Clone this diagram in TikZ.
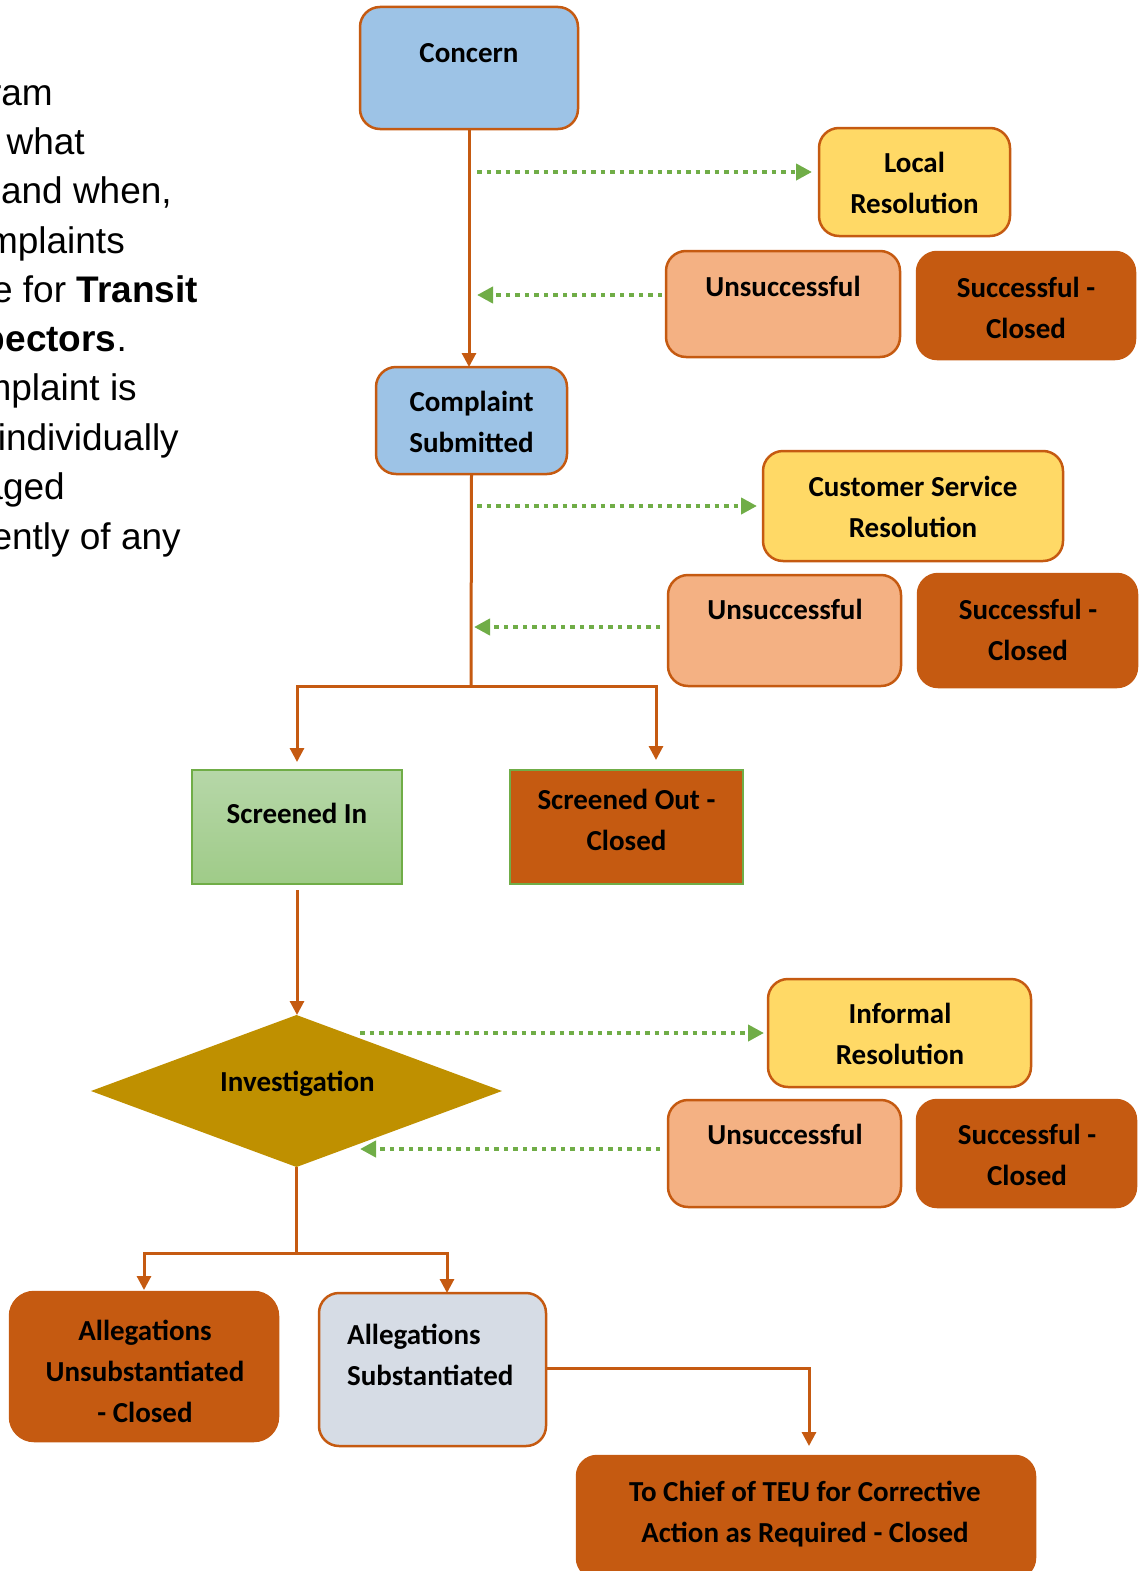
\documentclass[tikz,border=0pt]{standalone}
\usepackage{fontspec}
\setmainfont{Carlito}
\newfontfamily\sidefont{Liberation Sans}
\usetikzlibrary{arrows.meta,positioning,calc,shapes.geometric}

\definecolor{rust}{HTML}{C55A11}
\definecolor{skyfill}{HTML}{9DC3E6}
\definecolor{sunfill}{HTML}{FFD966}
\definecolor{peachfill}{HTML}{F4B183}
\definecolor{slatefill}{HTML}{D6DCE5}
\definecolor{gold}{HTML}{BF9000}
\definecolor{leaf}{HTML}{70AD47}
\definecolor{minttop}{HTML}{B6D7A8}
\definecolor{mintbot}{HTML}{9FCB88}

\tikzset{
  box/.style={rectangle, rounded corners=20pt, draw=rust, line width=2.5pt, inner sep=0pt, outer sep=0pt},
  flatbox/.style={rectangle, draw=leaf, line width=1.2pt, inner sep=0pt, outer sep=0pt},
  lbl/.style={font=\fontsize{29}{41}\selectfont\bfseries, align=center, inner sep=0pt},
  sidetxt/.style={font=\sidefont\fontsize{37}{49}\selectfont, anchor=base east, inner sep=0pt},
  trunk/.style={draw=rust, line width=3pt},
  flow/.style={trunk, -{Triangle[length=14pt,width=14pt]}},
  dotflow/.style={draw=leaf, line width=4.5pt, dash pattern=on 4.5pt off 5pt, -{Triangle[length=16pt,width=16pt]}},
}

\begin{document}
\begin{tikzpicture}[x=1pt, y=-1pt]
  \useasboundingbox (0,0) rectangle (1142,1571);

  % side text, cut off at the left edge
  \begin{scope}
  \clip (0,0) rectangle (1142,1571);
  \foreach \rx/\by/\ln [count=\i] in {
      53/105/{diagram},
      85/154/{shows what},
      172/203/{and when,},
      125/253/{complaints},
      198/302/{procedure for \textbf{Transit}},
      127/351/{\textbf{Inspectors}.},
      137/400/{complaint is},
      179/450/{individually},
      65/499/{managed},
      181/549/{independently of any}}
    \node (side\i) [sidetxt] at (\rx,\by) {\ln};
  \end{scope}

  % boxes
  \node (concern) [box, fill=skyfill, minimum width=218pt, minimum height=122pt] at (469,68) {};
  \node (local) [box, fill=sunfill, minimum width=191pt, minimum height=108pt] at (914.5,182) {};
  \node (unsucA) [box, fill=peachfill, minimum width=234pt, minimum height=106pt] at (783,304) {};
  \node (closedA) [box, fill=rust, minimum width=218pt, minimum height=107pt] at (1026,305.5) {};
  \node (submit) [box, fill=skyfill, minimum width=191pt, minimum height=107pt] at (471.5,420.5) {};
  \node (service) [box, fill=sunfill, minimum width=300pt, minimum height=110pt] at (913,506) {};
  \node (unsucB) [box, fill=peachfill, minimum width=233pt, minimum height=111pt] at (784.5,630.5) {};
  \node (closedB) [box, fill=rust, minimum width=219pt, minimum height=113pt] at (1027.5,630.5) {};
  \node (screenin) [flatbox, top color=minttop, bottom color=mintbot, minimum width=210pt, minimum height=114pt] at (297,827) {};
  \node (screenout) [flatbox, fill=rust, minimum width=233pt, minimum height=114pt] at (626.5,827) {};
  \node (invest) [diamond, fill=gold, inner sep=0pt, outer sep=0pt, minimum width=411pt, minimum height=152pt] at (296.5,1091) {};
  \node (informal) [box, fill=sunfill, minimum width=263pt, minimum height=108pt] at (899.5,1033) {};
  \node (unsucC) [box, fill=peachfill, minimum width=233pt, minimum height=107pt] at (784.5,1153.5) {};
  \node (closedC) [box, fill=rust, minimum width=219pt, minimum height=107pt] at (1026.5,1153.5) {};
  \node (unsub) [box, fill=rust, minimum width=268pt, minimum height=149pt, rounded corners=24pt] at (144,1366.5) {};
  \node (subst) [box, fill=slatefill, minimum width=227pt, minimum height=153pt] at (432.5,1369.5) {};
  \node (chief) [box, fill=rust, minimum width=458pt, minimum height=122pt] at (806,1517) {};

  % labels
  \node (concern-t) [lbl] at (469,53) {Concern};
  \node (local-t) [lbl] at (914.5,182.5) {Local\\Resolution};
  \node (unsucA-t) [lbl] at (783,286) {Unsuccessful};
  \node (closedA-t) [lbl] at (1026,307.5) {Successful -\\Closed};
  \node (submit-t) [lbl] at (471.5,421.5) {Complaint\\Submitted};
  \node (service-t) [lbl] at (913,506.5) {Customer Service\\Resolution};
  \node (unsucB-t) [lbl] at (785,609) {Unsuccessful};
  \node (closedB-t) [lbl] at (1028,629.5) {Successful -\\Closed};
  \node (screenin-t) [lbl] at (297,813) {Screened In};
  \node (screenout-t) [lbl] at (626.5,820) {Screened Out -\\Closed};
  \node (invest-t) [lbl] at (297.5,1084) {Investigation};
  \node (informal-t) [lbl] at (900,1033.5) {Informal\\Resolution};
  \node (unsucC-t) [lbl] at (785,1134) {Unsuccessful};
  \node (closedC-t) [lbl] at (1027,1155) {Successful -\\Closed};
  \node (unsub-t) [lbl] at (145,1371) {Allegations\\Unsubstantiated\\- Closed};
  \node (subst-t) [lbl, align=left, anchor=west] at (347,1354.5) {Allegations\\Substantiated};
  \node (chief-t) [lbl] at (805,1514) {To Chief of TEU for Corrective\\Action as Required - Closed};

  % main flow
  \coordinate (fork1) at (471,686);
  \coordinate (fork2) at (296.5,1253);
  \draw[flow] (concern.south) -- (concern.south |- submit.north);
  \draw[trunk] (submit.south) -- (fork1);
  \draw[flow, shorten >=8pt] (fork1) -| (screenin.north);
  \draw[flow, shorten >=10pt] (fork1) -| ([xshift=29.5pt]screenout.north);
  \draw[flow, shorten <=6pt] (screenin.south) -- (screenin.south |- invest.north);
  \draw[trunk] (invest.south) -- (fork2);
  \draw[flow, shorten >=2pt] (fork2) -| (unsub.north);
  \draw[flow] (fork2) -| ([xshift=14.5pt]subst.north);
  \draw[flow, shorten >=10pt] ([yshift=1.5pt]subst.east) -| ([xshift=3pt]chief.north);

  % side loops
  \coordinate (tapA) at (477,172);
  \coordinate (backA) at (477,295);
  \coordinate (tapB) at (477,506);
  \coordinate (backB) at (474,627);
  \coordinate (tapC) at (360,1033);
  \coordinate (backC) at (360,1149);
  \draw[dotflow, shorten >=7pt] (tapA) -- (tapA -| local.west);
  \draw[dotflow, shorten <=4pt] (backA -| unsucA.west) -- (backA);
  \draw[dotflow, shorten >=6pt] (tapB) -- (tapB -| service.west);
  \draw[dotflow, shorten <=8pt] (backB -| unsucB.west) -- (backB);
  \draw[dotflow, shorten >=4pt] (tapC) -- (tapC -| informal.west);
  \draw[dotflow, shorten <=8pt] (backC -| unsucC.west) -- (backC);
\end{tikzpicture}
\end{document}
